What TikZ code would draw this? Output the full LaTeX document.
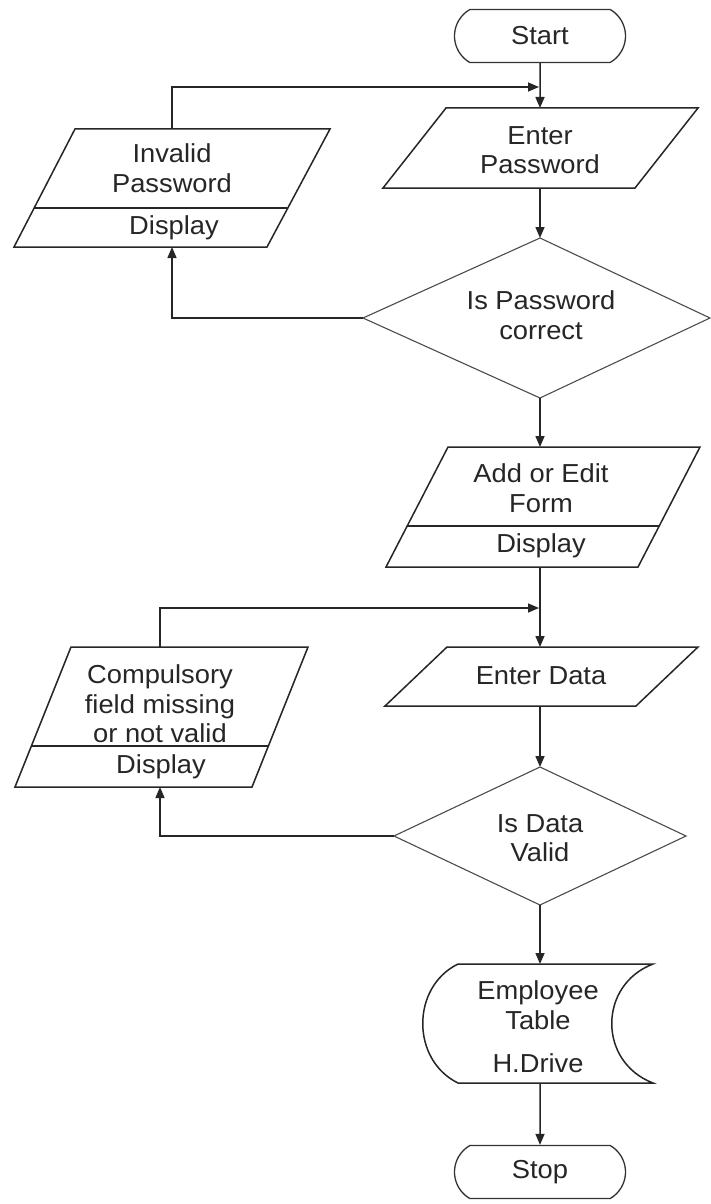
\documentclass[tikz,border=0pt]{standalone}
\usepackage{fontspec}
\setmainfont{Liberation Sans}[FakeStretch=1.05]
\usetikzlibrary{arrows.meta,shapes.misc}
\begin{document}
\begin{tikzpicture}[x=1pt,y=-1pt,
  every node/.style={font=\fontsize{26}{29.5}\selectfont, text=black!85, align=center, inner sep=0pt},
  box/.style={draw=black!85, line width=1.5pt, line join=miter},
  decision/.style={draw=black!70, line width=1.1pt},
  flow/.style={draw=black!85, line width=1.5pt, -{Triangle[length=11pt,width=9pt]}},
  terminal/.style={draw=black!80, line width=1.3pt, rounded rectangle,
    rounded rectangle arc length=120, minimum width=171pt, minimum height=53pt},
]
\fill[white] (0,0) rectangle (711,1204);
\useasboundingbox (0,0) rectangle (711,1204);

% terminals
\node[terminal] (start) at (540,36) {Start};
\node[terminal] (stop) at (540,1172) {Stop};

% input: password
\draw[box] (383,188) -- (446,108) -- (698,108) -- (635,188) -- cycle;
\node (pw) at (540,150) {Enter\\Password};
\coordinate (pw-n) at (540,108);
\coordinate (pw-s) at (540,188);

% display: invalid password
\draw[box] (14,247) -- (75,129) -- (330,129) -- (267,247) -- cycle;
\draw[box] (34,208) -- (287,208);
\node (inv) at (172,168) {Invalid\\Password};
\node (invd) at (174,228) {Display};
\coordinate (inv-n) at (172,129);
\coordinate (inv-s) at (172,247);

% decision: password
\draw[decision] (363,318) -- (540,238) -- (710,318) -- (540,398) -- cycle;
\node (pwok) at (541,315) {Is Password\\correct};
\coordinate (d1-n) at (540,238);
\coordinate (d1-w) at (363,318);
\coordinate (d1-s) at (540,398);

% display: add or edit form
\draw[box] (386,567) -- (448,447) -- (700,447) -- (638,567) -- cycle;
\draw[box] (407,526) -- (659,526);
\node (form) at (541,488) {Add or Edit\\Form};
\node (formd) at (541,546) {Display};
\coordinate (form-n) at (540,447);
\coordinate (form-s) at (540,567);

% input: data
\draw[box] (385,706) -- (447,647) -- (698,647) -- (636,706) -- cycle;
\node (data) at (541,676) {Enter Data};
\coordinate (data-n) at (540,647);
\coordinate (data-s) at (540,706);

% display: compulsory field
\draw[box] (15,787) -- (71,647) -- (308,647) -- (252,787) -- cycle;
\draw[box] (31,746) -- (268,746);
\node (cmp) at (160,704) {Compulsory\\field missing\\or not valid};
\node (cmpd) at (161,767) {Display};
\coordinate (cmp-n) at (160,647);
\coordinate (cmp-s) at (160,787);

% decision: data
\draw[decision] (394,836) -- (540,767) -- (686,836) -- (540,905) -- cycle;
\node (dok) at (540,838) {Is Data\\Valid};
\coordinate (d2-n) at (540,767);
\coordinate (d2-w) at (394,836);
\coordinate (d2-s) at (540,905);

% stored data: employee table
\draw[box] (458,964) -- (653,964) .. controls (598,985) and (598,1062) .. (653,1083)
  -- (458,1083) .. controls (411,1060) and (411,987) .. (458,964) -- cycle;
\node (tbl) at (538,1005) {Employee\\Table};
\node (drv) at (538,1063) {H.Drive};
\coordinate (tbl-n) at (540,964);
\coordinate (tbl-s) at (540,1083);

% loop-back junctions
\coordinate (j1) at (539,87);
\coordinate (j2) at (539,608);

% flow
\draw[flow] (start) -- (pw-n);
\draw[flow] (inv-n) |- (j1);
\draw[flow] (pw-s) -- (d1-n);
\draw[flow] (d1-w) -| (inv-s);
\draw[flow] (d1-s) -- (form-n);
\draw[flow] (form-s) -- (data-n);
\draw[flow] (cmp-n) |- (j2);
\draw[flow] (data-s) -- (d2-n);
\draw[flow] (d2-w) -| (cmp-s);
\draw[flow] (d2-s) -- (tbl-n);
\draw[flow] (tbl-s) -- (stop);
\end{tikzpicture}
\end{document}
